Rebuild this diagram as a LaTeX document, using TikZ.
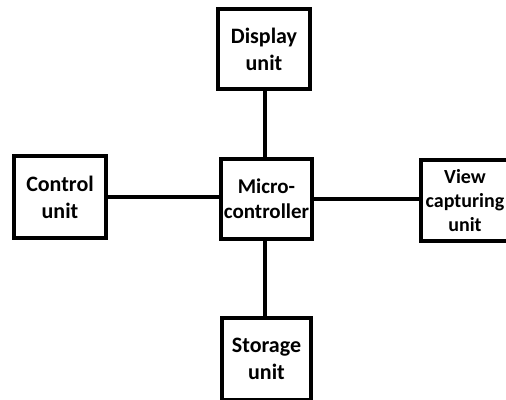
\documentclass[tikz,border=0pt]{standalone}
\usepackage{fontspec}
\setmainfont{Carlito}
\begin{document}
\begin{tikzpicture}[x=1pt,y=1pt,
  unitbox/.style={draw=black,line width=3.2pt,fill=white,align=center,inner sep=0pt,
    font=\bfseries\fontsize{22}{27}\selectfont},
  link/.style={draw=black,line width=3.2pt}]
\useasboundingbox (0,0) rectangle (506,399);
% y_tikz = 399 - y_px
\node[unitbox,minimum width=92pt,minimum height=80pt] (disp) at (264,350) {Display\\unit};
\node[unitbox,minimum width=92pt,minimum height=82pt] (ctrl) at (60,202) {Control\\unit};
\node[unitbox,minimum width=91pt,minimum height=80pt,font=\bfseries\fontsize{21}{25}\selectfont] (micro) at (266.5,200) {Micro-\\controller};
\node[unitbox,minimum width=88pt,minimum height=81pt,font=\bfseries\fontsize{20}{24}\selectfont] (view) at (465,198.5) {View\\capturing\\unit};
\node[unitbox,minimum width=89pt,minimum height=82pt] (stor) at (266.5,40) {Storage\\unit};
\draw[link] (disp.south -| 265,0) -- (micro.north -| 265,0);
\draw[link] (micro.south -| 265,0) -- (stor.north -| 265,0);
\draw[link] (ctrl.east) -- (ctrl.east -| micro.west);
\draw[link] (micro.east |- 0,200) -- (view.west |- 0,200);
\end{tikzpicture}
\end{document}
